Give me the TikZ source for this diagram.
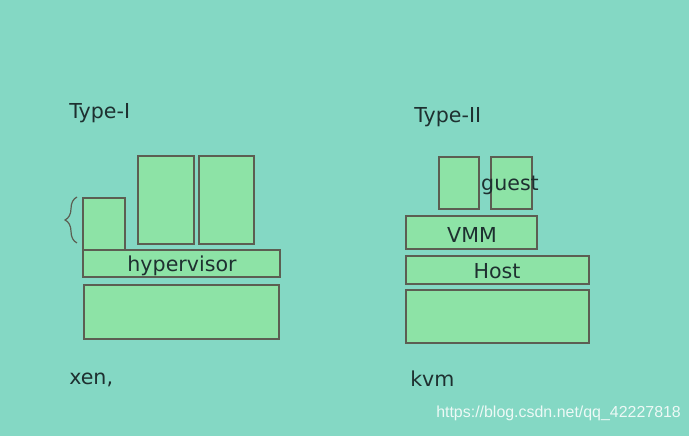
\documentclass[tikz,border=0pt]{standalone}
\usepackage{fontspec}
\setsansfont{DejaVu Sans}
\usetikzlibrary{decorations.pathreplacing}
\definecolor{screen}{HTML}{84D8C4}
\definecolor{boxfill}{HTML}{8DE3A6}
\definecolor{boxline}{HTML}{5C5E52}
\definecolor{ink}{HTML}{1E3030}
\tikzset{
  layer/.style={draw=boxline, fill=boxfill, line width=.9pt},
  lbl/.style={text=ink, font=\sffamily\fontsize{15.5}{18}\selectfont, inner sep=0pt},
}
\begin{document}
\begin{tikzpicture}[x=0.02646cm, y=-0.02646cm]
    \fill[screen] (0,0) rectangle (689,436);
    \useasboundingbox (0,0) rectangle (689,436);
    % Type-I
    \node[lbl, anchor=west] (type1) at (69,113) {Type-I};
    \draw[layer] (83,198) rectangle (125,250);
    \draw[layer] (138,156) rectangle (194,244);
    \draw[layer] (199,156) rectangle (254,244);
    \draw[layer] (83,250) rectangle (280,277);
    \draw[layer] (84,285) rectangle (279,339);
    \node[lbl] (hyp) at (182,266) {hypervisor};
    \draw[boxline, line width=.9pt, decorate, decoration={brace, amplitude=9}] (77,243)--(77,197);
    \node[lbl, anchor=west] (xen) at (69,380) {xen,};
    % Type-II
    \node[lbl, anchor=west] (type2) at (414,117) {Type-II};
    \draw[layer] (439,157) rectangle (479,209);
    \draw[layer] (491,157) rectangle (532,209);
    \node[lbl] (guest) at (510,185) {guest};
    \draw[layer] (406,216) rectangle (537,249);
    \node[lbl] (vmm) at (472,235) {VMM};
    \draw[layer] (406,256) rectangle (589,284);
    \node[lbl] (host) at (497,271) {Host};
    \draw[layer] (406,290) rectangle (589,343);
    \node[lbl, anchor=west] (kvm) at (410,379) {kvm};
    \node[anchor=west, text=white!85!screen, font=\fontspec{Liberation Sans}\fontsize{12}{14}\selectfont, inner sep=0pt] (mark) at (436,413) {https://blog.csdn.net/qq\_42227818};
\end{tikzpicture}
\end{document}
